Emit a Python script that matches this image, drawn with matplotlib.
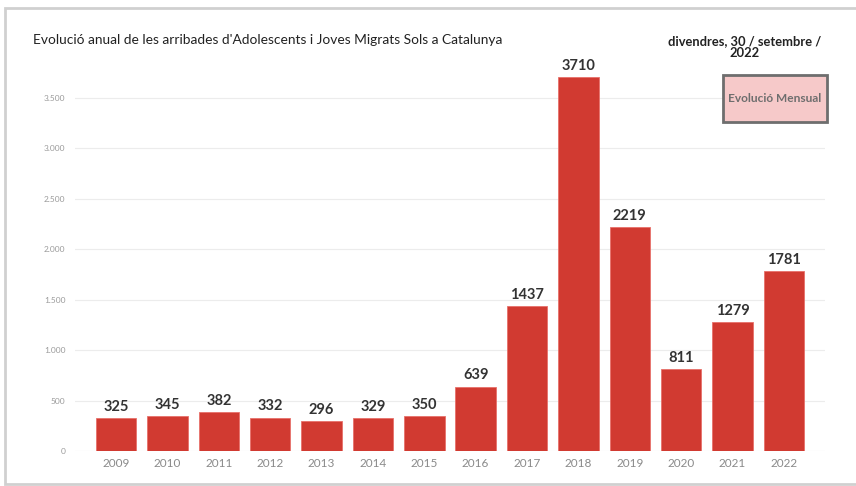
import matplotlib
matplotlib.use("Agg")
import matplotlib.pyplot as plt
from matplotlib.patches import Rectangle

years = ["2009", "2010", "2011", "2012", "2013", "2014", "2015", "2016",
         "2017", "2018", "2019", "2020", "2021", "2022"]
values = [325, 345, 382, 332, 296, 329, 350, 639, 1437, 3710, 2219, 811, 1279, 1781]
yticks = [0, 500, 1000, 1500, 2000, 2500, 3000, 3500]
ytick_labels = ["0", "500", "1.000", "1.500", "2.000", "2.500", "3.000", "3.500"]
title = "Evolució anual de les arribades d'Adolescents i Joves Migrats Sols a Catalunya"
date_text = "divendres, 30 / setembre /\n2022"
button_text = "Evolució Mensual"

plt.rcParams['font.family'] = ['Lato', 'DejaVu Sans']

W, H = 856, 486
fig = plt.figure(figsize=(W / 100, H / 100), dpi=100)
fig.patch.set_facecolor("white")

# card border/shadow
fig.add_artist(Rectangle((5 / W, 2 / H), (W + 10) / W, (478 - 2) / H,
                         transform=fig.transFigure, facecolor="white",
                         edgecolor="#d0d0d0", lw=2.0, zorder=0))

ax = fig.add_axes([75 / W, 1 - 451 / H, (825 - 75) / W, (451 - 57.5) / H])
ax.set_facecolor("none")
x = list(range(len(years)))
ax.bar(x, values, width=0.79, color="#d13a31", edgecolor="#e8706a",
       linewidth=0.6, zorder=3)
ax.set_xlim(-0.8, 13.8)
ax.set_ylim(0, 3900)
ax.set_yticks(yticks)
ax.set_yticklabels(ytick_labels)
ax.set_xticks(x)
ax.set_xticklabels(years)
ax.tick_params(axis="y", length=0, labelsize=6, labelcolor="#9a9a9a", pad=7)
ax.tick_params(axis="x", length=0, labelsize=8.5, labelcolor="#8a8a8a", pad=5)
for s in ax.spines.values():
    s.set_visible(False)
ax.grid(axis="y", color="#ececec", lw=0.8, zorder=0)
ax.set_axisbelow(True)

for xi, v in zip(x, values):
    ax.annotate(f"{v}", (xi, v), xytext=(0, 3), textcoords="offset points",
                ha="center", va="bottom", fontsize=10.5, fontweight="bold",
                color="#333333")

fig.text(33 / W, 1 - 40 / H, title, fontsize=9.9, color="#222222",
         ha="left", va="center")
fig.text(745 / W, 1 - 47 / H, date_text, fontsize=9.3, fontweight="bold",
         color="#222222", ha="center", va="center", linespacing=0.95)

fig.add_artist(Rectangle((723 / W, 1 - 122 / H), (827 - 723) / W, (122 - 75) / H,
                         transform=fig.transFigure, facecolor="#f6c9c9",
                         edgecolor="#6e6e6e", lw=2.0, zorder=5))
fig.text(775 / W, 1 - 98.5 / H, button_text, fontsize=8.6, fontweight="bold",
         color="#6e6e6e", ha="center", va="center", zorder=6)

fig.savefig("out.png", dpi=100)
